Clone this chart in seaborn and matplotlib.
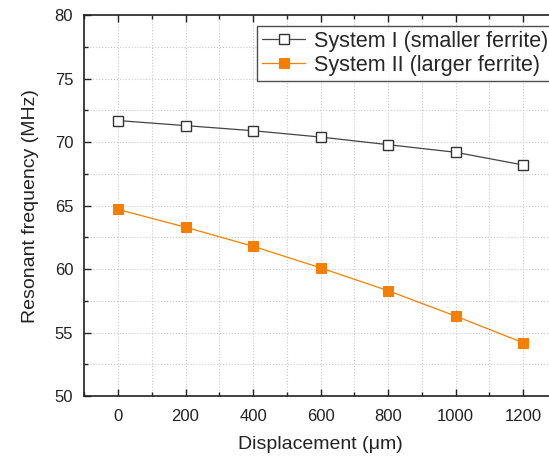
import numpy as np
import pandas as pd
import matplotlib
matplotlib.use("Agg")
import matplotlib.pyplot as plt
import seaborn as sns
from matplotlib.ticker import MultipleLocator

displacement = [0, 200, 400, 600, 800, 1000, 1200]
system1 = [71.7, 71.3, 70.9, 70.4, 69.8, 69.2, 68.2]
system2 = [64.7, 63.3, 61.8, 60.1, 58.3, 56.3, 54.2]
labels = ["System I (smaller ferrite)", "System II (larger ferrite)"]

df = pd.DataFrame({
    "x": displacement * 2,
    "y": system1 + system2,
    "series": [labels[0]] * len(system1) + [labels[1]] * len(system2),
})

sns.set_style("ticks")
plt.rcParams['font.family'] = ['Liberation Sans', 'DejaVu Sans']

fig = plt.figure(figsize=(5.49, 4.59), dpi=100)
ax = fig.add_axes([0.1535, 0.137, 0.861, 0.830])

colors = {labels[0]: "#444444", labels[1]: "#F77F00"}
sns.lineplot(data=df, x="x", y="y", hue="series", style="series",
             palette=colors, markers={labels[0]: "s", labels[1]: "s"},
             dashes=False, ax=ax, linewidth=0.9, markersize=7, legend=False)

line1, line2 = ax.lines[0], ax.lines[1]
line1.set_markerfacecolor("white")
line1.set_markeredgecolor("#333333")
line1.set_markeredgewidth(1.0)
line2.set_markerfacecolor("#F77F00")
line2.set_markeredgecolor("#F77F00")

ax.set_xlim(-100, 1300)
ax.set_ylim(50, 80)
ax.xaxis.set_major_locator(MultipleLocator(200))
ax.xaxis.set_minor_locator(MultipleLocator(100))
ax.yaxis.set_major_locator(MultipleLocator(5))
ax.yaxis.set_minor_locator(MultipleLocator(2.5))
ax.grid(True, which="both", linestyle=":", color="#c8c8c8", linewidth=0.8)
ax.set_axisbelow(True)

ax.tick_params(which="both", direction="in", top=True, right=True,
               labelsize=12, colors="#222222")
ax.tick_params(which="major", length=5, width=1.0)
ax.tick_params(which="minor", length=3, width=1.0)
ax.tick_params(axis="y", pad=8)
ax.tick_params(axis="x", pad=9)
for sp in ax.spines.values():
    sp.set_color("#222222")
    sp.set_linewidth(1.2)

ax.set_xlabel("Displacement (\u03bcm)", fontsize=14, color="#222222", labelpad=9)
ax.set_ylabel("Resonant frequency (MHz)", fontsize=14, color="#222222", labelpad=11)

leg = ax.legend([line1, line2], labels, loc="upper left",
                bbox_to_anchor=(0.366, 0.972), fontsize=15.5, frameon=True,
                fancybox=False, edgecolor="#222222", borderpad=0.22,
                handlelength=2.0, handletextpad=0.4, labelspacing=0.15,
                borderaxespad=0)
leg.get_frame().set_linewidth(1.0)

fig.savefig("out.png", dpi=100)
